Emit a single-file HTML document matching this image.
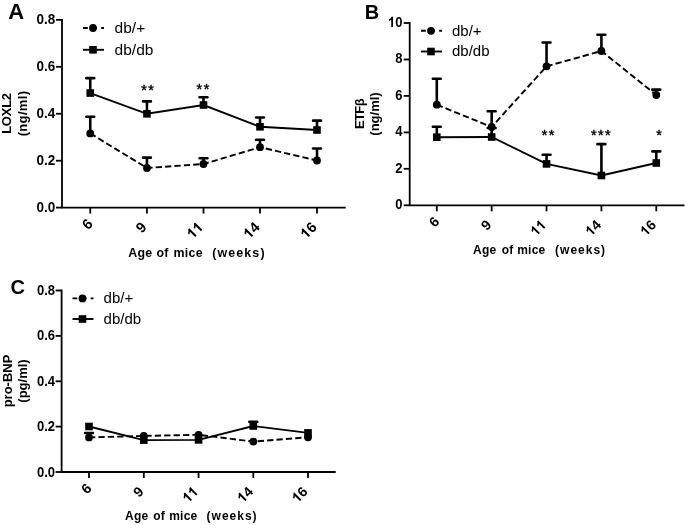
<!DOCTYPE html>
<html><head><meta charset="utf-8"><title>Figure</title>
<style>html,body{margin:0;padding:0;background:#fff;width:685px;height:525px;overflow:hidden}text{fill:#000}</style>
</head><body>
<svg width="685" height="525" viewBox="0 0 685 525" font-family='"Liberation Sans", sans-serif' style="display:block;will-change:transform">
<rect width="685" height="525" fill="#fff"/>
<text x="8.3" y="19.3" font-size="22" font-weight="bold">A</text>
<text x="364.7" y="18.6" font-size="20" font-weight="bold">B</text>
<text x="10.4" y="294" font-size="20" font-weight="bold">C</text>
<path d="M62 19.85V207.6H344.8" fill="none" stroke="#000" stroke-width="1.8" stroke-linecap="square"/>
<path d="M56 19.85H62" stroke="#000" stroke-width="1.8"/>
<g transform="translate(55.20 24.45) scale(0.93 1)"><text x="-20.16" y="0" font-size="14.5" font-weight="bold">0</text><text x="-12.09" y="0" font-size="14.5" font-weight="bold">.</text><text x="-8.06" y="0" font-size="14.5" font-weight="bold">8</text></g>
<path d="M56 66.8H62" stroke="#000" stroke-width="1.8"/>
<g transform="translate(55.20 71.40) scale(0.93 1)"><text x="-20.16" y="0" font-size="14.5" font-weight="bold">0</text><text x="-12.09" y="0" font-size="14.5" font-weight="bold">.</text><text x="-8.06" y="0" font-size="14.5" font-weight="bold">6</text></g>
<path d="M56 113.75H62" stroke="#000" stroke-width="1.8"/>
<g transform="translate(55.20 118.35) scale(0.93 1)"><text x="-20.16" y="0" font-size="14.5" font-weight="bold">0</text><text x="-12.09" y="0" font-size="14.5" font-weight="bold">.</text><text x="-8.06" y="0" font-size="14.5" font-weight="bold">4</text></g>
<path d="M56 160.7H62" stroke="#000" stroke-width="1.8"/>
<g transform="translate(55.20 165.30) scale(0.93 1)"><text x="-20.16" y="0" font-size="14.5" font-weight="bold">0</text><text x="-12.09" y="0" font-size="14.5" font-weight="bold">.</text><text x="-8.06" y="0" font-size="14.5" font-weight="bold">2</text></g>
<path d="M56 207.6H62" stroke="#000" stroke-width="1.8"/>
<g transform="translate(55.20 212.20) scale(0.93 1)"><text x="-20.16" y="0" font-size="14.5" font-weight="bold">0</text><text x="-12.09" y="0" font-size="14.5" font-weight="bold">.</text><text x="-8.06" y="0" font-size="14.5" font-weight="bold">0</text></g>
<path d="M90.25 207.6V213.6" stroke="#000" stroke-width="1.8"/>
<g transform="translate(93.65 224.80) rotate(-45)"><text x="-8.06" y="0" font-size="14.5" font-weight="bold">6</text></g>
<path d="M146.95 207.6V213.6" stroke="#000" stroke-width="1.8"/>
<g transform="translate(147.55 228.10) rotate(-45)"><text x="-8.06" y="0" font-size="14.5" font-weight="bold">9</text></g>
<path d="M203.5 207.6V213.6" stroke="#000" stroke-width="1.8"/>
<g transform="translate(204.10 228.10) rotate(-45)"><path transform="translate(-16.13 0) scale(0.00708 -0.00708)" d="M787 0H506V1059C403 963 283 891 143 846V1101C217 1125 297 1170 383 1237C469 1304 528 1381 559 1469H787Z"/><path transform="translate(-8.06 0) scale(0.00708 -0.00708)" d="M787 0H506V1059C403 963 283 891 143 846V1101C217 1125 297 1170 383 1237C469 1304 528 1381 559 1469H787Z"/></g>
<path d="M260.0 207.6V213.6" stroke="#000" stroke-width="1.8"/>
<g transform="translate(260.60 228.10) rotate(-45)"><path transform="translate(-16.13 0) scale(0.00708 -0.00708)" d="M787 0H506V1059C403 963 283 891 143 846V1101C217 1125 297 1170 383 1237C469 1304 528 1381 559 1469H787Z"/><text x="-8.06" y="0" font-size="14.5" font-weight="bold">4</text></g>
<path d="M317.0 207.6V213.6" stroke="#000" stroke-width="1.8"/>
<g transform="translate(317.60 228.10) rotate(-45)"><path transform="translate(-16.13 0) scale(0.00708 -0.00708)" d="M787 0H506V1059C403 963 283 891 143 846V1101C217 1125 297 1170 383 1237C469 1304 528 1381 559 1469H787Z"/><text x="-8.06" y="0" font-size="14.5" font-weight="bold">6</text></g>
<path d="M409.7 23.0V205.3H683.6" fill="none" stroke="#000" stroke-width="1.8" stroke-linecap="square"/>
<path d="M403.7 23.0H409.7" stroke="#000" stroke-width="1.8"/>
<g transform="translate(402.50 26.90) scale(0.93 1)"><path transform="translate(-15.57 0) scale(0.00684 -0.00684)" d="M787 0H506V1059C403 963 283 891 143 846V1101C217 1125 297 1170 383 1237C469 1304 528 1381 559 1469H787Z"/><text x="-7.79" y="0" font-size="14" font-weight="bold">0</text></g>
<path d="M403.7 59.5H409.7" stroke="#000" stroke-width="1.8"/>
<g transform="translate(402.50 63.40) scale(0.93 1)"><text x="-7.79" y="0" font-size="14" font-weight="bold">8</text></g>
<path d="M403.7 95.9H409.7" stroke="#000" stroke-width="1.8"/>
<g transform="translate(402.50 99.80) scale(0.93 1)"><text x="-7.79" y="0" font-size="14" font-weight="bold">6</text></g>
<path d="M403.7 132.4H409.7" stroke="#000" stroke-width="1.8"/>
<g transform="translate(402.50 136.30) scale(0.93 1)"><text x="-7.79" y="0" font-size="14" font-weight="bold">4</text></g>
<path d="M403.7 168.8H409.7" stroke="#000" stroke-width="1.8"/>
<g transform="translate(402.50 172.70) scale(0.93 1)"><text x="-7.79" y="0" font-size="14" font-weight="bold">2</text></g>
<path d="M403.7 205.3H409.7" stroke="#000" stroke-width="1.8"/>
<g transform="translate(402.50 209.20) scale(0.93 1)"><text x="-7.79" y="0" font-size="14" font-weight="bold">0</text></g>
<path d="M436.8 205.3V211.3" stroke="#000" stroke-width="1.8"/>
<g transform="translate(440.20 222.50) rotate(-45)"><text x="-7.79" y="0" font-size="14" font-weight="bold">6</text></g>
<path d="M491.67 205.3V211.3" stroke="#000" stroke-width="1.8"/>
<g transform="translate(492.27 225.80) rotate(-45)"><text x="-7.79" y="0" font-size="14" font-weight="bold">9</text></g>
<path d="M546.54 205.3V211.3" stroke="#000" stroke-width="1.8"/>
<g transform="translate(547.14 225.80) rotate(-45)"><path transform="translate(-15.57 0) scale(0.00684 -0.00684)" d="M787 0H506V1059C403 963 283 891 143 846V1101C217 1125 297 1170 383 1237C469 1304 528 1381 559 1469H787Z"/><path transform="translate(-7.79 0) scale(0.00684 -0.00684)" d="M787 0H506V1059C403 963 283 891 143 846V1101C217 1125 297 1170 383 1237C469 1304 528 1381 559 1469H787Z"/></g>
<path d="M601.41 205.3V211.3" stroke="#000" stroke-width="1.8"/>
<g transform="translate(602.01 225.80) rotate(-45)"><path transform="translate(-15.57 0) scale(0.00684 -0.00684)" d="M787 0H506V1059C403 963 283 891 143 846V1101C217 1125 297 1170 383 1237C469 1304 528 1381 559 1469H787Z"/><text x="-7.79" y="0" font-size="14" font-weight="bold">4</text></g>
<path d="M656.28 205.3V211.3" stroke="#000" stroke-width="1.8"/>
<g transform="translate(656.88 225.80) rotate(-45)"><path transform="translate(-15.57 0) scale(0.00684 -0.00684)" d="M787 0H506V1059C403 963 283 891 143 846V1101C217 1125 297 1170 383 1237C469 1304 528 1381 559 1469H787Z"/><text x="-7.79" y="0" font-size="14" font-weight="bold">6</text></g>
<path d="M61.6 290.5V472.0H334.8" fill="none" stroke="#000" stroke-width="1.8" stroke-linecap="square"/>
<path d="M55.6 290.5H61.6" stroke="#000" stroke-width="1.8"/>
<g transform="translate(55.00 295.00) scale(0.93 1)"><text x="-19.46" y="0" font-size="14" font-weight="bold">0</text><text x="-11.68" y="0" font-size="14" font-weight="bold">.</text><text x="-7.79" y="0" font-size="14" font-weight="bold">8</text></g>
<path d="M55.6 335.9H61.6" stroke="#000" stroke-width="1.8"/>
<g transform="translate(55.00 340.40) scale(0.93 1)"><text x="-19.46" y="0" font-size="14" font-weight="bold">0</text><text x="-11.68" y="0" font-size="14" font-weight="bold">.</text><text x="-7.79" y="0" font-size="14" font-weight="bold">6</text></g>
<path d="M55.6 381.3H61.6" stroke="#000" stroke-width="1.8"/>
<g transform="translate(55.00 385.80) scale(0.93 1)"><text x="-19.46" y="0" font-size="14" font-weight="bold">0</text><text x="-11.68" y="0" font-size="14" font-weight="bold">.</text><text x="-7.79" y="0" font-size="14" font-weight="bold">4</text></g>
<path d="M55.6 426.6H61.6" stroke="#000" stroke-width="1.8"/>
<g transform="translate(55.00 431.10) scale(0.93 1)"><text x="-19.46" y="0" font-size="14" font-weight="bold">0</text><text x="-11.68" y="0" font-size="14" font-weight="bold">.</text><text x="-7.79" y="0" font-size="14" font-weight="bold">2</text></g>
<path d="M55.6 472.0H61.6" stroke="#000" stroke-width="1.8"/>
<g transform="translate(55.00 476.50) scale(0.93 1)"><text x="-19.46" y="0" font-size="14" font-weight="bold">0</text><text x="-11.68" y="0" font-size="14" font-weight="bold">.</text><text x="-7.79" y="0" font-size="14" font-weight="bold">0</text></g>
<path d="M89.0 472.0V478.0" stroke="#000" stroke-width="1.8"/>
<g transform="translate(92.40 489.20) rotate(-45)"><text x="-7.79" y="0" font-size="14" font-weight="bold">6</text></g>
<path d="M143.8 472.0V478.0" stroke="#000" stroke-width="1.8"/>
<g transform="translate(144.40 492.50) rotate(-45)"><text x="-7.79" y="0" font-size="14" font-weight="bold">9</text></g>
<path d="M198.55 472.0V478.0" stroke="#000" stroke-width="1.8"/>
<g transform="translate(199.15 492.50) rotate(-45)"><path transform="translate(-15.57 0) scale(0.00684 -0.00684)" d="M787 0H506V1059C403 963 283 891 143 846V1101C217 1125 297 1170 383 1237C469 1304 528 1381 559 1469H787Z"/><path transform="translate(-7.79 0) scale(0.00684 -0.00684)" d="M787 0H506V1059C403 963 283 891 143 846V1101C217 1125 297 1170 383 1237C469 1304 528 1381 559 1469H787Z"/></g>
<path d="M253.3 472.0V478.0" stroke="#000" stroke-width="1.8"/>
<g transform="translate(253.90 492.50) rotate(-45)"><path transform="translate(-15.57 0) scale(0.00684 -0.00684)" d="M787 0H506V1059C403 963 283 891 143 846V1101C217 1125 297 1170 383 1237C469 1304 528 1381 559 1469H787Z"/><text x="-7.79" y="0" font-size="14" font-weight="bold">4</text></g>
<path d="M308.0 472.0V478.0" stroke="#000" stroke-width="1.8"/>
<g transform="translate(308.60 492.50) rotate(-45)"><path transform="translate(-15.57 0) scale(0.00684 -0.00684)" d="M787 0H506V1059C403 963 283 891 143 846V1101C217 1125 297 1170 383 1237C469 1304 528 1381 559 1469H787Z"/><text x="-7.79" y="0" font-size="14" font-weight="bold">6</text></g>
<text x="128.20" y="257.2" font-size="12.4" font-weight="bold" letter-spacing="0.25">Age</text>
<text x="156.43" y="257.2" font-size="12.4" font-weight="bold" letter-spacing="0.25">of</text>
<text x="173.57" y="257.2" font-size="12.4" font-weight="bold" letter-spacing="0.25">mice</text>
<text x="212.17" y="257.2" font-size="12.4" font-weight="bold" letter-spacing="1.15">(weeks)</text>
<text x="473.10" y="253.6" font-size="12" font-weight="bold" letter-spacing="0.25">Age</text>
<text x="501.75" y="253.6" font-size="12" font-weight="bold" letter-spacing="0.25">of</text>
<text x="517.20" y="253.6" font-size="12" font-weight="bold" letter-spacing="0.25">mice</text>
<text x="555.10" y="253.6" font-size="12" font-weight="bold" letter-spacing="1.0">(weeks)</text>
<text x="125.10" y="520.4" font-size="12" font-weight="bold" letter-spacing="0.25">Age</text>
<text x="153.25" y="520.4" font-size="12" font-weight="bold" letter-spacing="0.25">of</text>
<text x="169.20" y="520.4" font-size="12" font-weight="bold" letter-spacing="0.25">mice</text>
<text x="206.60" y="520.4" font-size="12" font-weight="bold" letter-spacing="1.0">(weeks)</text>
<text transform="translate(10.9 113.5) rotate(-90)" text-anchor="middle" font-size="13" font-weight="bold" letter-spacing="-0.25">LOXL2</text>
<text transform="translate(26.7 113.5) rotate(-90)" text-anchor="middle" font-size="13" font-weight="bold" letter-spacing="0.33">(ng/ml)</text>
<text transform="translate(363.7 114) rotate(-90)" text-anchor="middle" font-size="13" font-weight="bold" letter-spacing="-0.6">ETFβ</text>
<text transform="translate(378.6 114) rotate(-90)" text-anchor="middle" font-size="13" font-weight="bold" letter-spacing="0">(ng/ml)</text>
<text transform="translate(11.9 381) rotate(-90)" text-anchor="middle" font-size="13" font-weight="bold" letter-spacing="0">pro-BNP</text>
<text transform="translate(27.2 381) rotate(-90)" text-anchor="middle" font-size="13" font-weight="bold" letter-spacing="0">(pg/ml)</text>
<polyline points="90.25,133.4 146.95,168 203.5,164 260.0,147.2 317.0,160.5" fill="none" stroke="#000" stroke-width="1.9" stroke-dasharray="6.3 3.1"/>
<path d="M90.25 133.4V116.7" stroke="#000" stroke-width="2.6"/>
<rect x="85.05" y="115.4" width="10.4" height="2.6" rx="1.2"/>
<path d="M146.95 168V157.6" stroke="#000" stroke-width="2.6"/>
<rect x="141.75" y="156.29999999999998" width="10.4" height="2.6" rx="1.2"/>
<path d="M203.5 164V158.2" stroke="#000" stroke-width="2.6"/>
<rect x="198.3" y="156.89999999999998" width="10.4" height="2.6" rx="1.2"/>
<path d="M260.0 147.2V139.8" stroke="#000" stroke-width="2.6"/>
<rect x="254.8" y="138.5" width="10.4" height="2.6" rx="1.2"/>
<path d="M317.0 160.5V148.5" stroke="#000" stroke-width="2.6"/>
<rect x="311.8" y="147.2" width="10.4" height="2.6" rx="1.2"/>
<circle cx="90.25" cy="133.4" r="3.9"/>
<circle cx="146.95" cy="168" r="3.9"/>
<circle cx="203.5" cy="164" r="3.9"/>
<circle cx="260.0" cy="147.2" r="3.9"/>
<circle cx="317.0" cy="160.5" r="3.9"/>
<polyline points="90.25,93.05 146.95,113.8 203.5,105 260.0,126.8 317.0,130" fill="none" stroke="#000" stroke-width="1.9"/>
<path d="M90.25 93.05V78.1" stroke="#000" stroke-width="2.6"/>
<rect x="85.05" y="76.8" width="10.4" height="2.6" rx="1.2"/>
<path d="M146.95 113.8V101.4" stroke="#000" stroke-width="2.6"/>
<rect x="141.75" y="100.10000000000001" width="10.4" height="2.6" rx="1.2"/>
<path d="M203.5 105V97.2" stroke="#000" stroke-width="2.6"/>
<rect x="198.3" y="95.9" width="10.4" height="2.6" rx="1.2"/>
<path d="M260.0 126.8V117.5" stroke="#000" stroke-width="2.6"/>
<rect x="254.8" y="116.2" width="10.4" height="2.6" rx="1.2"/>
<path d="M317.0 130V120.6" stroke="#000" stroke-width="2.6"/>
<rect x="311.8" y="119.3" width="10.4" height="2.6" rx="1.2"/>
<rect x="86.45" y="89.25" width="7.6" height="7.6"/>
<rect x="143.14999999999998" y="110.0" width="7.6" height="7.6"/>
<rect x="199.7" y="101.2" width="7.6" height="7.6"/>
<rect x="256.2" y="123.0" width="7.6" height="7.6"/>
<rect x="313.2" y="126.2" width="7.6" height="7.6"/>
<path d="M83 28.0H104" stroke="#000" stroke-width="1.9" stroke-dasharray="4.8 4.3"/>
<circle cx="93" cy="28.0" r="3.9"/>
<text x="114.6" y="32.8" font-size="15.5">db/+</text>
<path d="M83 49.8H104" stroke="#000" stroke-width="1.9"/>
<rect x="89.2" y="46.0" width="7.6" height="7.6"/>
<text x="114.6" y="54.599999999999994" font-size="15.5">db/db</text>
<text x="148.25" y="94.9" text-anchor="middle" font-size="14.5" letter-spacing="1.4" stroke="#000" stroke-width="0.4">**</text>
<text x="203.65" y="94.0" text-anchor="middle" font-size="14.5" letter-spacing="1.4" stroke="#000" stroke-width="0.4">**</text>
<polyline points="436.8,104.7 491.67,127 546.54,66.3 601.41,51 656.28,95" fill="none" stroke="#000" stroke-width="1.9" stroke-dasharray="6.3 3.1"/>
<path d="M436.8 104.7V78.7" stroke="#000" stroke-width="2.6"/>
<rect x="431.6" y="77.4" width="10.4" height="2.6" rx="1.2"/>
<path d="M491.67 127V111.3" stroke="#000" stroke-width="2.6"/>
<rect x="486.47" y="110.0" width="10.4" height="2.6" rx="1.2"/>
<path d="M546.54 66.3V42.5" stroke="#000" stroke-width="2.6"/>
<rect x="541.3399999999999" y="41.2" width="10.4" height="2.6" rx="1.2"/>
<path d="M601.41 51V34.7" stroke="#000" stroke-width="2.6"/>
<rect x="596.2099999999999" y="33.400000000000006" width="10.4" height="2.6" rx="1.2"/>
<path d="M656.28 95V89.6" stroke="#000" stroke-width="2.6"/>
<rect x="651.0799999999999" y="88.3" width="10.4" height="2.6" rx="1.2"/>
<circle cx="436.8" cy="104.7" r="3.9"/>
<circle cx="491.67" cy="127" r="3.9"/>
<circle cx="546.54" cy="66.3" r="3.9"/>
<circle cx="601.41" cy="51" r="3.9"/>
<circle cx="656.28" cy="95" r="3.9"/>
<polyline points="436.8,137.2 491.67,137 546.54,163.9 601.41,175.5 656.28,163" fill="none" stroke="#000" stroke-width="1.9"/>
<path d="M436.8 137.2V126.7" stroke="#000" stroke-width="2.6"/>
<rect x="431.6" y="125.4" width="10.4" height="2.6" rx="1.2"/>
<path d="M491.67 137V128" stroke="#000" stroke-width="2.6"/>
<rect x="486.47" y="126.7" width="10.4" height="2.6" rx="1.2"/>
<path d="M546.54 163.9V154.7" stroke="#000" stroke-width="2.6"/>
<rect x="541.3399999999999" y="153.39999999999998" width="10.4" height="2.6" rx="1.2"/>
<path d="M601.41 175.5V144.1" stroke="#000" stroke-width="2.6"/>
<rect x="596.2099999999999" y="142.79999999999998" width="10.4" height="2.6" rx="1.2"/>
<path d="M656.28 163V151.4" stroke="#000" stroke-width="2.6"/>
<rect x="651.0799999999999" y="150.1" width="10.4" height="2.6" rx="1.2"/>
<rect x="433.0" y="133.39999999999998" width="7.6" height="7.6"/>
<rect x="487.87" y="133.2" width="7.6" height="7.6"/>
<rect x="542.74" y="160.1" width="7.6" height="7.6"/>
<rect x="597.61" y="171.7" width="7.6" height="7.6"/>
<rect x="652.48" y="159.2" width="7.6" height="7.6"/>
<path d="M421 30.8H442" stroke="#000" stroke-width="1.9" stroke-dasharray="4.8 4.3"/>
<circle cx="431" cy="30.8" r="3.9"/>
<text x="452" y="35.6" font-size="15">db/+</text>
<path d="M421 51.5H442" stroke="#000" stroke-width="1.9"/>
<rect x="427.2" y="47.7" width="7.6" height="7.6"/>
<text x="452" y="56.3" font-size="15">db/db</text>
<text x="548.70" y="139.9" text-anchor="middle" font-size="14.5" letter-spacing="1.4" stroke="#000" stroke-width="0.4">**</text>
<text x="601.50" y="140.0" text-anchor="middle" font-size="14.5" letter-spacing="1.4" stroke="#000" stroke-width="0.4">***</text>
<text x="659.80" y="140.0" text-anchor="middle" font-size="14.5" letter-spacing="1.4" stroke="#000" stroke-width="0.4">*</text>
<polyline points="89.0,437.4 143.8,435.9 198.55,434.8 253.3,441.6 308.0,437.3" fill="none" stroke="#000" stroke-width="1.9" stroke-dasharray="6.3 3.1"/>
<path d="M89.0 437.4V433" stroke="#000" stroke-width="2.6"/>
<rect x="83.8" y="431.7" width="10.4" height="2.6" rx="1.2"/>
<circle cx="89.0" cy="437.4" r="3.9"/>
<circle cx="143.8" cy="435.9" r="3.9"/>
<circle cx="198.55" cy="434.8" r="3.9"/>
<circle cx="253.3" cy="441.6" r="3.9"/>
<circle cx="308.0" cy="437.3" r="3.9"/>
<polyline points="89.0,426.5 143.8,440.1 198.55,439.9 253.3,426 308.0,432.9" fill="none" stroke="#000" stroke-width="1.9"/>
<path d="M253.3 426V421.8" stroke="#000" stroke-width="2.6"/>
<rect x="248.10000000000002" y="420.5" width="10.4" height="2.6" rx="1.2"/>
<rect x="85.2" y="422.7" width="7.6" height="7.6"/>
<rect x="140.0" y="436.3" width="7.6" height="7.6"/>
<rect x="194.75" y="436.09999999999997" width="7.6" height="7.6"/>
<rect x="249.5" y="422.2" width="7.6" height="7.6"/>
<rect x="304.2" y="429.09999999999997" width="7.6" height="7.6"/>
<path d="M72.5 298.4H93.5" stroke="#000" stroke-width="1.9" stroke-dasharray="4.8 4.3"/>
<circle cx="82.5" cy="298.4" r="3.9"/>
<text x="103.6" y="303.2" font-size="15">db/+</text>
<path d="M72.5 319H93.5" stroke="#000" stroke-width="1.9"/>
<rect x="78.7" y="315.2" width="7.6" height="7.6"/>
<text x="103.6" y="323.8" font-size="15">db/db</text>
</svg>
</body></html>
